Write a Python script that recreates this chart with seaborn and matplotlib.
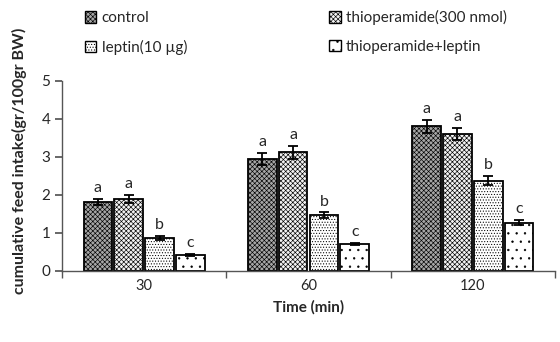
import matplotlib
matplotlib.use("Agg")
import matplotlib.pyplot as plt
import seaborn as sns
import pandas as pd
import numpy as np
from matplotlib.patches import Patch

times = ["30", "60", "120"]
groups = ["control", "thioperamide(300 nmol)", "leptin(10 µg)", "thioperamide+leptin"]
control = [1.82, 2.95, 3.81]
thioperamide = [1.89, 3.12, 3.61]
leptin = [0.87, 1.47, 2.38]
combo = [0.42, 0.72, 1.27]
err_control = [0.07, 0.15, 0.17]
err_thioperamide = [0.11, 0.18, 0.15]
err_leptin = [0.06, 0.07, 0.12]
err_combo = [0.02, 0.03, 0.07]
letters_control = ["a", "a", "a"]
letters_thioperamide = ["a", "a", "a"]
letters_leptin = ["b", "b", "b"]
letters_combo = ["c", "c", "c"]

series = [control, thioperamide, leptin, combo]
errs = [err_control, err_thioperamide, err_leptin, err_combo]
letters = [letters_control, letters_thioperamide, letters_leptin, letters_combo]

rows = []
for g, vals in zip(groups, series):
    for t, v in zip(times, vals):
        rows.append({"time": t, "group": g, "value": v})
df = pd.DataFrame(rows)

sns.set_theme(style="white")
plt.rcParams["font.family"] = ["Lato", "DejaVu Sans"]
plt.rcParams["hatch.linewidth"] = 0.45

fig = plt.figure(figsize=(5.6, 3.42), dpi=100)
ax = fig.add_axes([62/560, 71/342, 493/560, 190/342])

hatches = ["xxxxxxx", "xxxxxxx", "......", ".."]
faces = ["#a6a6a6", "#f2f2f2", "white", "white"]
sns.barplot(data=df, x="time", y="value", hue="group", order=times, hue_order=groups,
            palette=faces, saturation=1, width=0.75, gap=0.07, edgecolor="black", linewidth=1.3,
            errorbar=None, legend=False, ax=ax)

def style_patch(p, i):
    p.set_hatch(hatches[i])
    p.set_facecolor(faces[i])
    p.set_edgecolor("black")

bar_containers = list(ax.containers)
for ci, cont in enumerate(bar_containers):
    for bi, bar in enumerate(cont):
        style_patch(bar, ci)
        xc = bar.get_x() + bar.get_width() / 2
        h = bar.get_height()
        e = errs[ci][bi]
        ax.errorbar(xc, h, yerr=e, color="black", capsize=3.5, elinewidth=1.3, capthick=1.3)
        ax.text(xc, h + e + 0.1, letters[ci][bi], ha="center", va="bottom", fontsize=11.5)

ax.set_ylim(0, 5)
ax.set_xlim(-0.5, 2.5)
ax.set_yticks([0, 1, 2, 3, 4, 5])
for s in ["top", "right"]:
    ax.spines[s].set_visible(False)
for s in ["left", "bottom"]:
    ax.spines[s].set_color("#555555")
    ax.spines[s].set_linewidth(1.0)
ax.set_xticks([-0.5, 0.5, 1.5, 2.5], minor=True)
ax.tick_params(axis="x", which="major", length=0, labelsize=10.5, pad=6)
ax.tick_params(axis="x", which="minor", length=5, direction="out", color="#555555", bottom=True)
ax.tick_params(axis="y", length=5, direction="out", labelsize=11, color="#555555", left=True)
ax.set_xlabel("Time (min)", fontsize=11, fontweight="bold", labelpad=5)
ax.set_ylabel("cumulative feed intake(gr/100gr BW)", fontsize=11.5, fontweight="bold", labelpad=4)
ax.yaxis.set_label_coords(-0.072, 0.58)

handles = []
for i in [0, 2, 1, 3]:
    p = Patch(facecolor="white", edgecolor="black")
    style_patch(p, i)
    handles.append(p)
labels = [groups[i] for i in [0, 2, 1, 3]]
fig.legend(handles, labels, ncol=2, loc="upper left", bbox_to_anchor=(71/560, 1.01),
           frameon=False, fontsize=11, handlelength=0.75, handleheight=0.75, handletextpad=0.35,
           columnspacing=9.3, labelspacing=0.95)

fig.savefig("out.png", dpi=100)
